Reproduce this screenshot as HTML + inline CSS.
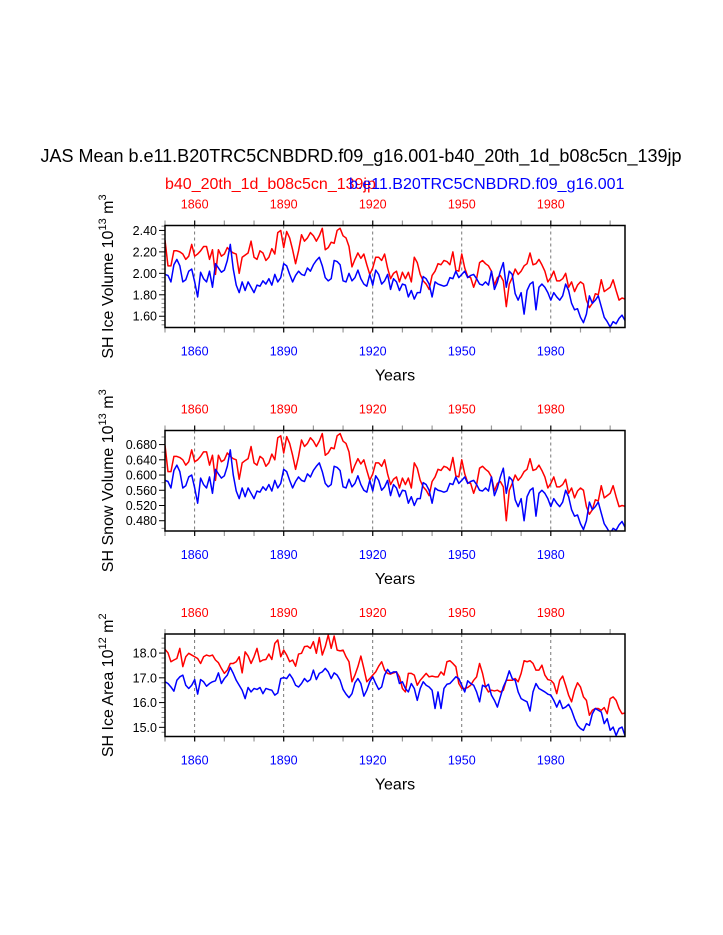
<!DOCTYPE html>
<html><head><meta charset="utf-8"><style>
body{margin:0;background:#fff;}
svg{display:block;font-family:"Liberation Sans",Arial,sans-serif;}
</style></head><body>
<svg id="chart" width="723" height="935" viewBox="0 0 723 935">
<text x="361" y="162" text-anchor="middle" font-size="18" fill="#000">JAS Mean b.e11.B20TRC5CNBDRD.f09_g16.001-b40_20th_1d_b08c5cn_139jp</text>
<text x="165" y="189" font-size="16" fill="#ff0000">b40_20th_1d_b08c5cn_139jp</text>
<text x="349" y="189" font-size="16" fill="#0000ff">b.e11.B20TRC5CNBDRD.f09_g16.001</text>
</svg>
<script>
const years0 = 1850;
const xTicks = [1860,1890,1920,1950,1980];
// Panel 1: SH Ice Volume
const p1Red = [2.31,2.07,2.07,2.21,2.21,2.20,2.18,2.13,2.16,2.27,
2.16,2.18,2.21,2.25,2.25,2.13,2.22,1.99,2.22,2.16,
2.18,2.24,2.21,2.19,2.18,2.00,2.15,2.17,2.19,2.30,
2.15,2.13,2.21,2.19,2.12,2.15,2.23,2.18,2.38,2.40,
2.24,2.39,2.33,2.22,2.09,2.21,2.36,2.30,2.33,2.38,
2.35,2.30,2.35,2.42,2.22,2.24,2.29,2.28,2.40,2.42,
2.35,2.33,2.25,2.06,2.13,2.19,2.14,2.18,2.08,1.99,
2.05,2.15,2.15,2.12,2.18,2.05,1.95,2.00,
2.02,1.92,2.01,1.95,2.01,1.92,2.15,2.10,1.99,1.93,
1.90,1.85,1.98,2.02,2.09,2.08,2.12,2.11,2.08,2.20,
2.03,2.02,2.18,2.05,1.97,1.96,1.87,1.95,2.10,2.12,
2.09,2.07,2.02,1.89,1.96,1.98,1.93,1.69,1.90,1.96,
2.04,1.99,2.02,2.07,2.09,2.19,2.08,2.09,2.13,2.08,
2.02,1.92,1.96,2.02,1.93,1.93,1.95,2.00,1.87,1.92,
1.83,1.89,1.92,1.90,1.75,1.68,1.72,1.81,1.80,1.94,
1.83,1.85,1.87,1.94,1.84,1.75,1.77,1.76];
const p1Blue = [1.99,1.98,1.92,2.08,2.13,2.07,1.92,1.94,2.02,2.04,
1.92,1.78,2.01,1.95,1.92,2.02,1.87,2.09,2.05,2.01,
2.03,2.12,2.27,2.04,1.89,1.82,1.92,1.84,1.92,1.87,
1.82,1.89,1.88,1.93,1.90,1.95,1.89,1.99,1.92,1.96,
2.09,2.07,1.99,1.92,1.98,2.02,1.99,1.98,2.05,2.02,
2.08,2.12,2.15,2.07,1.96,1.93,1.95,2.12,2.11,2.08,
1.93,1.92,2.00,1.93,1.96,2.03,1.95,1.90,1.88,1.99,
1.89,2.03,1.99,1.90,1.93,1.99,1.85,1.95,
1.92,1.84,1.90,1.89,1.78,1.84,1.76,1.82,1.82,1.97,
1.95,1.90,1.78,1.92,1.90,1.89,1.88,1.89,1.96,1.95,
2.02,1.96,1.99,2.02,1.96,1.98,1.99,1.95,1.90,1.89,
1.92,1.89,2.02,1.85,1.92,2.02,2.10,1.87,2.02,1.99,
1.81,1.75,1.82,1.62,1.84,1.90,1.92,1.66,1.87,
1.90,1.87,1.82,1.75,1.82,1.78,1.75,1.79,1.90,1.84,
1.72,1.66,1.67,1.59,1.54,1.62,1.79,1.72,1.75,1.79,
1.69,1.59,1.55,1.50,1.55,1.53,1.58,1.61,1.56];
const p1Ticks = [1.60,1.80,2.00,2.20,2.40];
// Panel 2: SH Snow Volume
const p2Red = [0.678,0.609,0.609,0.649,0.649,0.646,0.640,0.626,0.635,0.666,
0.635,0.640,0.649,0.661,0.661,0.626,0.652,0.586,0.652,0.635,
0.640,0.658,0.649,0.643,0.640,0.589,0.632,0.638,0.643,0.675,
0.632,0.626,0.649,0.643,0.623,0.632,0.655,0.640,0.698,0.703,
0.658,0.701,0.683,0.652,0.615,0.649,0.692,0.675,0.683,0.698,
0.689,0.675,0.689,0.709,0.652,0.658,0.672,0.669,0.703,0.709,
0.689,0.683,0.661,0.606,0.626,0.643,0.629,0.640,0.612,0.586,
0.603,0.632,0.632,0.623,0.640,0.603,0.575,0.589,
0.595,0.566,0.592,0.575,0.592,0.566,0.632,0.618,0.586,0.569,
0.560,0.546,0.583,0.595,0.615,0.612,0.623,0.620,0.612,0.646,
0.598,0.595,0.640,0.603,0.580,0.578,0.552,0.575,0.618,0.623,
0.615,0.609,0.595,0.558,0.578,0.583,0.569,0.480,0.560,0.578,
0.600,0.586,0.595,0.609,0.615,0.643,0.612,0.615,0.626,0.612,
0.595,0.566,0.578,0.595,0.569,0.569,0.575,0.589,0.552,0.566,
0.540,0.558,0.566,0.560,0.517,0.497,0.509,0.535,0.532,0.572,
0.540,0.546,0.552,0.572,0.543,0.517,0.520,0.518];
const p2Blue = [0.586,0.583,0.566,0.612,0.626,0.609,0.566,0.572,0.595,0.600,
0.566,0.526,0.592,0.575,0.566,0.595,0.552,0.615,0.603,0.592,
0.598,0.623,0.666,0.600,0.558,0.538,0.566,0.543,0.566,0.552,
0.538,0.558,0.555,0.569,0.560,0.575,0.558,0.586,0.566,0.578,
0.615,0.609,0.586,0.566,0.583,0.595,0.586,0.583,0.603,0.595,
0.612,0.623,0.632,0.609,0.578,0.569,0.575,0.623,0.620,0.612,
0.569,0.566,0.589,0.569,0.578,0.598,0.575,0.560,0.555,0.586,
0.558,0.598,0.586,0.560,0.569,0.586,0.546,0.575,
0.566,0.543,0.560,0.558,0.526,0.543,0.520,0.538,0.538,0.580,
0.575,0.560,0.526,0.566,0.560,0.558,0.555,0.558,0.578,0.575,
0.595,0.578,0.586,0.595,0.578,0.583,0.586,0.575,0.560,0.558,
0.566,0.558,0.595,0.546,0.566,0.595,0.618,0.552,0.595,0.586,
0.535,0.517,0.538,0.480,0.543,0.560,0.566,0.492,0.552,
0.560,0.552,0.538,0.517,0.538,0.526,0.517,0.529,0.560,0.543,
0.509,0.492,0.495,0.472,0.457,0.480,0.529,0.509,0.517,0.529,
0.500,0.472,0.460,0.446,0.460,0.455,0.469,0.478,0.463];
const p2Ticks = [0.480,0.520,0.560,0.600,0.640,0.680];
// Panel 3: SH Ice Area
const p3Red = [18.15,18.01,17.65,17.72,17.78,18.19,17.45,17.85,17.99,17.92,
17.85,17.78,17.58,17.85,17.92,17.88,17.92,17.72,17.61,17.38,
17.18,17.31,17.58,17.58,17.65,17.85,17.20,18.05,17.88,17.58,
17.85,18.19,17.65,17.72,17.74,17.96,17.74,18.39,18.53,17.85,
18.12,17.92,17.65,17.72,17.47,17.96,17.99,18.26,18.28,18.19,
18.46,17.99,18.63,17.92,18.26,18.73,18.19,18.69,18.12,18.09,
18.12,17.85,17.65,16.84,17.11,17.45,17.88,17.38,16.84,16.97,
17.11,17.24,17.47,17.65,17.31,17.18,17.15,17.20,
17.24,17.04,16.57,16.43,17.18,17.18,17.11,16.70,16.90,17.04,
17.18,17.04,17.07,17.04,17.04,17.24,17.11,17.65,17.69,17.58,
17.45,16.77,16.57,16.57,16.61,16.70,16.90,17.04,17.58,17.18,
16.63,16.43,16.50,16.47,16.50,16.43,16.50,16.90,16.90,16.90,
16.97,16.84,17.18,17.69,17.65,17.69,17.58,17.31,17.31,17.51,
17.11,16.93,16.90,16.77,16.36,16.90,17.07,16.70,16.30,16.03,
16.50,16.80,16.63,16.23,16.09,15.49,15.69,15.76,15.76,15.69,
15.80,15.55,16.16,16.23,16.09,15.76,15.55,15.58];
const p3Blue = [16.84,16.77,16.63,16.46,16.90,17.04,17.11,16.70,16.57,16.70,
16.93,16.34,16.93,16.84,16.66,16.77,16.84,16.88,17.20,16.77,
16.97,17.11,17.42,17.18,16.90,16.70,16.50,16.16,16.61,16.43,
16.57,16.53,16.61,16.36,16.57,16.53,16.50,16.30,16.39,16.97,
17.01,16.97,17.15,16.97,16.70,16.63,16.77,16.97,16.84,16.93,
17.31,16.93,17.18,17.24,17.38,17.24,16.97,17.20,17.11,16.90,
16.53,16.34,16.20,16.36,16.80,16.97,16.77,16.26,16.50,16.84,
17.04,16.77,16.53,16.63,17.11,17.34,17.18,17.24,
17.24,16.77,16.84,16.57,16.43,16.77,16.57,16.09,16.57,16.84,
16.70,16.63,16.50,15.76,16.43,15.76,16.57,16.74,16.77,16.90,
17.04,16.97,16.70,16.43,16.88,16.77,16.70,16.43,16.03,16.70,
16.63,16.74,16.30,16.09,15.82,16.23,16.63,16.90,17.28,16.97,
16.90,16.43,16.16,16.09,16.03,15.66,16.43,16.77,16.57,16.50,
16.43,16.34,16.30,16.09,15.82,16.09,15.76,15.82,15.93,15.69,
15.35,15.08,14.95,14.88,15.15,15.08,15.55,15.76,15.69,15.62,
15.15,15.35,14.88,15.01,14.67,14.95,15.01,14.67];
const p3Ticks = [15.0,16.0,17.0,18.0];

const NS='http://www.w3.org/2000/svg';
const svg=document.getElementById('chart');
function mk(tag,attrs,parent){const e=document.createElementNS(NS,tag);for(const k in attrs)e.setAttribute(k,attrs[k]);(parent||svg).appendChild(e);return e;}
const X0=165,X1=625,Y_START=1850,Y_END=2005;
function xs(yr){return X0+(yr-Y_START)/(Y_END-Y_START)*(X1-X0);}

function panel(cfg){
  const g=mk('g',{});
  
  
  const {top,bot,vmin,vmax}=cfg;
  const ys=v=>bot-(v-vmin)/(vmax-vmin)*(bot-top);
  xTicks.forEach(t=>{const l=mk('line',{x1:xs(t),x2:xs(t),y1:top,y2:bot,stroke:'#555','stroke-width':0.8,'stroke-dasharray':'3,3'},g);
    
    });
  for(let yr=1850;yr<=2000;yr+=10){
    const major=xTicks.includes(yr);
    const c=major?'#000':'#999';
    mk('line',{x1:xs(yr),x2:xs(yr),y1:top,y2:top-5,stroke:c,'stroke-width':1.2},g);
    mk('line',{x1:xs(yr),x2:xs(yr),y1:bot,y2:bot+5,stroke:c,'stroke-width':1.2},g);
  }
  const step=(cfg.minor);
  for(let v=Math.ceil(vmin/step)*step; v<=vmax+1e-9; v+=step){
    const isMaj=cfg.ticks.some(t=>Math.abs(t-v)<step/3);
    mk('line',{x1:X0,x2:X0-(isMaj?6:3.5),y1:ys(v),y2:ys(v),stroke:isMaj?'#000':'#888','stroke-width':1},g);
  }
  cfg.ticks.forEach(t=>{const e=mk('text',{x:X0-8,y:ys(t)+4.5,'text-anchor':'end','font-size':12.5,fill:'#000'},g);e.textContent=t.toFixed(cfg.dec);
    
    });
  xTicks.forEach(t=>{
    const a=mk('text',{x:xs(t),y:top-17,'text-anchor':'middle','font-size':12.5,fill:'#ff0000'},g);a.textContent=t;
    
    
    const b=mk('text',{x:xs(t),y:bot+28,'text-anchor':'middle','font-size':12.5,fill:'#0000ff'},g);b.textContent=t;
    
    
  });
  const xt=mk('text',{x:395,y:bot+53,'text-anchor':'middle','font-size':16,fill:'#000'},g);xt.textContent='Years';
  
  
  const cy=(top+bot)/2;
  const yt=mk('text',{x:0,y:0,'text-anchor':'middle','font-size':16,fill:'#000',transform:`translate(113,${cy}) rotate(-90)`},g);
  yt.innerHTML=cfg.label+' 10<tspan dy="-7" font-size="11">'+cfg.exp+'</tspan><tspan dy="7"> m</tspan><tspan dy="-7" font-size="11">'+cfg.unitExp+'</tspan>';
  
  
  const cid='clip-'+cfg.name;
  const cp=mk('clipPath',{id:cid},g);mk('rect',{x:X0,y:top,width:X1-X0,height:bot-top},cp);
  [[cfg.red,'#ff0000','red-series'],[cfg.blue,'#0000ff','blue-series']].forEach(([arr,col,nm])=>{
    const d=arr.map((v,i)=>(i?'L':'M')+xs(years0+i).toFixed(2)+','+ys(v).toFixed(2)).join('');
    const p=mk('path',{d:d,fill:'none',stroke:col,'stroke-width':1.5,'clip-path':`url(#${cid})`,'stroke-linejoin':'round'},g);
    
    
  });
  const fr=mk('rect',{x:X0,y:top,width:X1-X0,height:bot-top,fill:'none',stroke:'#000','stroke-width':1.5},g);
  
  
}
panel({name:'ice-volume-panel',top:225.5,bot:327.5,vmin:1.495,vmax:2.446,ticks:p1Ticks,minor:0.04,dec:2,red:p1Red,blue:p1Blue,label:'SH Ice Volume',exp:'13',unitExp:'3'});
panel({name:'snow-volume-panel',top:430.5,bot:531,vmin:0.453,vmax:0.717,ticks:p2Ticks,minor:0.02,dec:3,red:p2Red,blue:p2Blue,label:'SH Snow Volume',exp:'13',unitExp:'3'});
panel({name:'ice-area-panel',top:634,bot:736.5,vmin:14.63,vmax:18.77,ticks:p3Ticks,minor:0.2,dec:1,red:p3Red,blue:p3Blue,label:'SH Ice Area',exp:'12',unitExp:'2'});
</script>
</body></html>
